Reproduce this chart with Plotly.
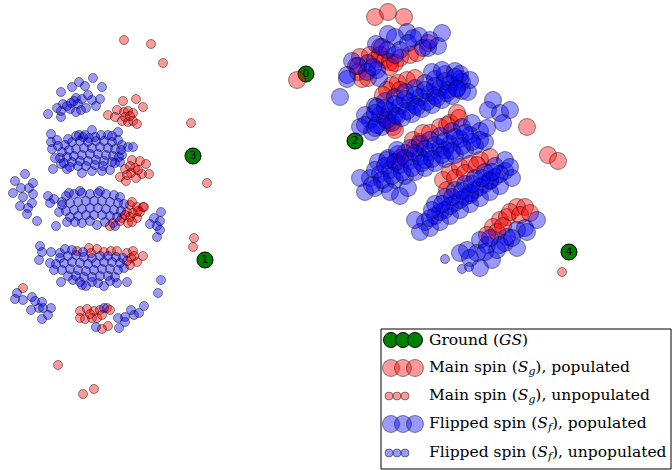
import plotly.graph_objects as go

# ---------------- data (pixel-like units, y grows downward) ----------------
gs_x = [306, 205, 355, 193, 569]
gs_y = [74, 260, 141, 156, 252]
gs_label = ["0", "1", "2", "3", "4"]

# Main spin (S_g), populated  (large red)
main_pop = [
    (375, 17), (388, 12), (404, 17), (297, 80),
    (360, 57), (370, 55), (375, 60), (380, 55), (385, 60), (390, 62), (400, 58), (410, 55),
    (417, 53), (358, 72), (362, 79), (368, 78), (390, 67), (428, 43), (380, 47), (356, 66), (395, 63),
    (392, 85), (387, 90), (398, 83), (407, 80), (393, 127), (388, 123), (395, 130), (383, 95),
    (415, 78), (400, 90), (385, 118),
    (527, 127), (548, 155), (558, 161),
    (405, 153), (400, 158), (413, 140), (415, 148), (420, 142), (423, 133), (430, 133),
    (440, 127), (447, 125), (450, 123), (457, 113), (459, 118), (396, 162),
    (443, 180), (450, 172), (460, 167), (470, 164), (480, 160), (490, 157), (447, 190),
    (455, 178), (465, 173), (477, 165),
    (500, 220), (507, 217), (517, 207), (525, 207), (493, 227), (497, 232), (487, 235),
    (510, 212), (520, 215), (503, 226), (530, 213),
]

# Main spin (S_g), unpopulated  (small red)
main_unpop = [
    (123, 101), (136, 99), (143, 107), (117, 110), (124, 112), (128, 111), (133, 113), (108, 115),
    (115, 117), (122, 121), (128, 122), (133, 121), (137, 124), (125, 117), (130, 116),
    (124, 40), (151, 44), (163, 63), (191, 123), (207, 183), (194, 238), (193, 247), (23, 288),
    (58, 365), (83, 394), (94, 389),
    (132, 160), (140, 161), (146, 164), (135, 168), (125, 169), (130, 166), (142, 174), (149, 174),
    (120, 177), (126, 181), (136, 178), (131, 173), (138, 170), (127, 175),
    (130, 205), (137, 207), (143, 207), (127, 212), (133, 213), (140, 212), (122, 218), (130, 217),
    (137, 218), (113, 223), (128, 223), (110, 226), (120, 221), (132, 222), (138, 211), (144, 207),
    (132, 202), (125, 215),
    (77, 251), (89, 248), (97, 249), (91, 253), (104, 252), (111, 251), (117, 251), (127, 253),
    (133, 251), (131, 258), (137, 262), (130, 265), (143, 256), (127, 261), (134, 256),
    (80, 311), (87, 309), (94, 311), (100, 310), (107, 308), (110, 310), (80, 318), (85, 319),
    (92, 318), (97, 318), (102, 315), (108, 326), (102, 329), (90, 314),
    (562, 272),
]

# Flipped spin (S_f), populated  (large blue)
flip_pop = [
    # band A
    (388, 34), (407, 32), (419, 36), (442, 33), (438, 46), (376, 44), (395, 37), (413, 38),
    (428, 48), (352, 61), (347, 75), (347, 79), (368, 63), (377, 70), (379, 78), (340, 97),
    (408, 43), (400, 50), (387, 50), (382, 47), (423, 48), (367, 72), (373, 67), (430, 40),
    (358, 66), (395, 55),
    # band B
    (370, 120), (380, 115), (390, 111), (400, 106), (410, 102), (420, 97), (430, 93), (440, 88),
    (450, 84), (460, 79), (375, 106), (385, 101), (395, 97), (405, 92), (415, 88), (425, 83),
    (435, 79), (445, 74), (455, 71), (372, 132), (382, 127), (392, 123), (402, 118), (412, 114),
    (422, 109), (432, 105), (442, 100), (452, 96), (462, 91), (360, 127), (365, 115), (432, 72),
    (442, 70), (460, 74), (462, 82), (457, 88), (377, 107), (365, 125), (375, 128), (470, 80),
    (468, 92), (395, 115), (415, 105), (435, 96), (448, 90),
    (375, 113), (385, 108), (395, 104), (405, 99), (415, 95), (425, 90), (435, 86), (445, 81),
    (455, 77), (377, 125), (387, 120), (397, 116), (407, 111), (417, 107), (427, 102), (437, 98),
    (447, 93), (457, 89),
    (493, 100), (488, 110), (500, 113), (510, 110), (503, 123),
    # band C
    (370, 178), (380, 174), (390, 170), (400, 165), (410, 161), (420, 157), (430, 152), (440, 148),
    (450, 144), (460, 139), (470, 135), (480, 131), (378, 162), (388, 158), (398, 154), (410, 148),
    (420, 144), (430, 140), (440, 136), (452, 131), (462, 127), (472, 123), (365, 192), (375, 188),
    (385, 184), (395, 180), (405, 176), (415, 172), (425, 168), (435, 163), (445, 159), (455, 155),
    (465, 150), (475, 146), (485, 142), (360, 178), (390, 192), (400, 196), (408, 188), (387, 160),
    (397, 150), (487, 128), (480, 140), (445, 150), (425, 160),
    (375, 170), (385, 166), (395, 162), (405, 158), (415, 153), (425, 149), (435, 145), (445, 141),
    (455, 137), (465, 133), (372, 185), (382, 180), (392, 176), (402, 172), (412, 168), (422, 163),
    (432, 159), (442, 155), (452, 151), (462, 146), (472, 142),
    # band D
    (425, 222), (435, 216), (445, 210), (455, 203), (465, 197), (475, 190), (485, 184), (495, 177),
    (505, 171), (435, 204), (445, 197), (455, 190), (465, 184), (475, 178), (485, 172), (495, 166),
    (505, 160), (420, 232), (430, 228), (440, 222), (450, 216), (460, 210), (470, 204), (480, 198),
    (490, 192), (500, 186), (512, 178), (415, 220), (510, 167), (470, 195), (490, 180),
    (430, 218), (440, 212), (450, 206), (460, 200), (470, 193), (480, 187), (490, 181), (500, 174),
    (432, 210), (442, 204), (452, 197), (462, 191), (472, 184), (482, 178), (492, 172),
    # band E
    (537, 220), (517, 230), (507, 237), (480, 240), (467, 250), (477, 253), (492, 260), (517, 248),
    (497, 250), (480, 268), (460, 253), (487, 245), (505, 243), (525, 228),
    (470, 258), (485, 252), (500, 245), (512, 238), (527, 232), (490, 238),
]

# Flipped spin (S_f), unpopulated  (small blue)
flip_unpop = [
    # band 1
    (93, 78), (79, 82), (72, 87), (85, 86), (102, 87), (61, 92), (76, 98), (88, 95), (82, 99),
    (92, 100), (100, 99), (63, 104), (71, 103), (78, 104), (86, 108), (96, 106), (57, 108),
    (61, 111), (70, 109), (76, 112), (81, 110), (48, 114), (61, 117), (67, 106), (74, 101),
    # band 2 edges
    (118, 132), (92, 130), (51, 134), (51, 142), (52, 149), (55, 158), (57, 140), (53, 169),
    (61, 164), (67, 169), (82, 173), (92, 171), (102, 171), (110, 170), (122, 145), (128, 147),
    (133, 147), (122, 155), (120, 162), (79, 135), (76, 136), (83, 137), (89, 138), (101, 135),
    (108, 135),
    # band 2 core
    (65, 145), (72, 142), (80, 141), (88, 142), (96, 141), (104, 141), (112, 142), (118, 140),
    (62, 152), (69, 150), (76, 149), (84, 148), (92, 148), (100, 147), (108, 148), (115, 149),
    (121, 150), (60, 158), (67, 157), (74, 156), (82, 155), (90, 154), (98, 154), (106, 155),
    (113, 156), (119, 157), (64, 163), (72, 162), (80, 161), (88, 161), (96, 160), (104, 161),
    (112, 162), (70, 167), (78, 166), (86, 166), (95, 165), (103, 166), (68, 139), (85, 135),
    (95, 137), (112, 136), (58, 146), (115, 163),
    # left group
    (15, 181), (25, 174), (33, 183), (21, 188), (29, 188), (13, 193), (33, 194), (23, 197),
    (32, 203), (20, 206), (28, 208), (27, 214), (37, 221),
    # band 3 edges
    (48, 196), (54, 199), (50, 203), (62, 202), (69, 193), (56, 226), (59, 212), (67, 222),
    (82, 223), (97, 225), (115, 226), (161, 212), (154, 218), (160, 221), (150, 224), (157, 226),
    (160, 230), (157, 237),
    # band 3 core
    (66, 196), (74, 194), (82, 193), (90, 194), (98, 193), (106, 194), (114, 195), (120, 197),
    (62, 205), (70, 203), (78, 202), (86, 201), (94, 201), (102, 201), (110, 202), (118, 203),
    (124, 204), (66, 211), (74, 210), (82, 209), (90, 208), (98, 208), (106, 209), (114, 210),
    (121, 211), (70, 217), (78, 216), (86, 215), (94, 215), (102, 215), (110, 216), (117, 217),
    (75, 222), (90, 221), (105, 222), (80, 191), (100, 191),
    # band 4 edges
    (40, 246), (42, 252), (51, 252), (39, 260), (50, 263), (54, 270), (60, 253), (65, 249),
    (61, 282), (73, 280), (82, 285), (86, 286), (98, 283), (104, 286), (117, 283), (127, 282),
    (161, 280), (158, 293),
    # band 4 core
    (60, 258), (68, 256), (76, 255), (84, 257), (92, 258), (100, 256), (108, 256), (116, 257),
    (123, 258), (56, 264), (64, 263), (72, 262), (80, 263), (88, 264), (96, 263), (104, 262),
    (112, 262), (120, 263), (62, 270), (70, 269), (78, 270), (86, 271), (94, 270), (102, 269),
    (110, 269), (118, 270), (124, 268), (68, 276), (76, 276), (84, 277), (92, 277), (100, 276),
    (108, 276), (115, 277), (80, 282), (92, 282), (110, 281), (72, 250), (83, 252),
    # band 5
    (17, 293), (15, 299), (23, 300), (32, 297), (35, 301), (42, 302), (31, 310), (39, 308),
    (43, 308), (51, 308), (48, 315), (42, 319), (104, 308), (96, 327), (118, 318), (125, 317),
    (131, 310), (134, 315), (139, 313), (144, 306), (119, 328), (125, 322),
    # right cluster small
    (445, 259), (462, 269), (469, 267),
]

legend_labels = [
    "Ground (<i>GS</i>)",
    "Main spin (<i>S<sub>g</sub></i>), populated",
    "Main spin (<i>S<sub>g</sub></i>), unpopulated",
    "Flipped spin (<i>S<sub>f</sub></i>), populated",
    "Flipped spin (<i>S<sub>f</sub></i>), unpopulated",
]

# ---------------- styles ----------------
RED = "rgba(255,0,0,0.4)"
BLUE = "rgba(0,0,255,0.4)"
EDGE = "rgba(0,0,0,0.45)"
GREEN = "rgb(0,128,0)"
BIG, SMALL, GSIZE = 17, 9, 16


def xs(p):
    return [a for a, _ in p]


def ys(p):
    return [b for _, b in p]


fig = go.Figure()

fig.add_trace(go.Scatter(x=gs_x, y=gs_y, mode="markers+text", text=gs_label,
                         textposition="middle center",
                         textfont=dict(family="DejaVu Sans", size=11, color="black"),
                         marker=dict(size=GSIZE, color=GREEN, line=dict(color="black", width=1)),
                         showlegend=False, hoverinfo="skip"))
fig.add_trace(go.Scatter(x=xs(main_pop), y=ys(main_pop), mode="markers",
                         marker=dict(size=BIG, color=RED, line=dict(color=EDGE, width=1)),
                         showlegend=False))
fig.add_trace(go.Scatter(x=xs(main_unpop), y=ys(main_unpop), mode="markers",
                         marker=dict(size=SMALL, color=RED, line=dict(color=EDGE, width=1)),
                         showlegend=False))
fig.add_trace(go.Scatter(x=xs(flip_pop), y=ys(flip_pop), mode="markers",
                         marker=dict(size=BIG, color=BLUE, line=dict(color=EDGE, width=1)),
                         showlegend=False))
fig.add_trace(go.Scatter(x=xs(flip_unpop), y=ys(flip_unpop), mode="markers",
                         marker=dict(size=SMALL, color=BLUE, line=dict(color=EDGE, width=1)),
                         showlegend=False))

# ---------------- hand-drawn legend (three sample circles per entry) ----------------
leg_rows = [340, 368, 396, 424, 453]
leg_big_x = [391, 403, 415]
leg_small_x = [389, 397, 405]
leg_styles = [
    (GREEN, "black", 15, leg_big_x),
    (RED, EDGE, 17, leg_big_x),
    (RED, EDGE, 8, leg_small_x),
    (BLUE, EDGE, 17, leg_big_x),
    (BLUE, EDGE, 8, leg_small_x),
]
fig.add_shape(type="rect", xref="x", yref="y", x0=381, y0=329, x1=671, y1=469,
              line=dict(color="black", width=1), fillcolor="white", layer="below")
for row_y, (col, edge, sz, lx), lab in zip(leg_rows, leg_styles, legend_labels):
    fig.add_trace(go.Scatter(x=lx, y=[row_y] * 3, mode="markers",
                             marker=dict(size=sz, color=col, line=dict(color=edge, width=1)),
                             showlegend=False, hoverinfo="skip"))
    fig.add_annotation(x=427, y=row_y, xref="x", yref="y", text=lab, showarrow=False,
                       xanchor="left", yanchor="middle",
                       font=dict(family="DejaVu Serif", size=15.5, color="black"))

fig.update_layout(
    width=672, height=470,
    margin=dict(l=0, r=0, t=0, b=0),
    plot_bgcolor="white", paper_bgcolor="white",
    xaxis=dict(range=[0, 672], visible=False, fixedrange=True),
    yaxis=dict(range=[470, 0], visible=False, fixedrange=True),
    showlegend=False,
)

fig.write_html("out.html")
